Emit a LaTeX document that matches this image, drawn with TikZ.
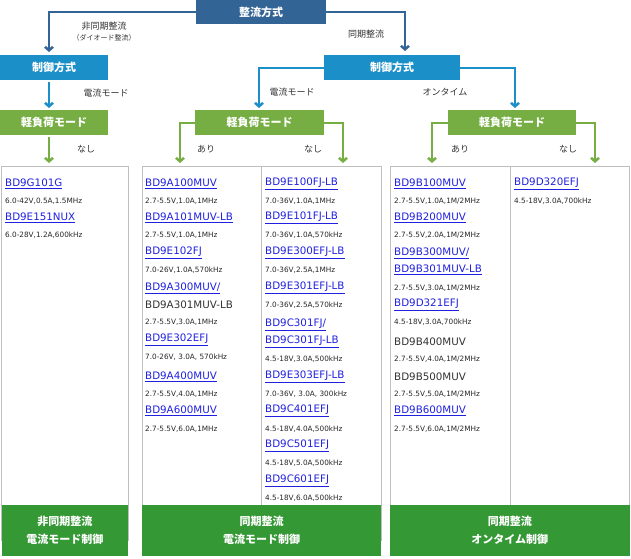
\documentclass[tikz,border=0pt]{standalone}
\usepackage{fontspec}
\setmainfont{DejaVu Sans}
\newfontfamily\jpfont{Noto Sans CJK JP}
\usetikzlibrary{calc}
\definecolor{RectBlue}{RGB}{51,100,150}
\definecolor{CtrlBlue}{RGB}{26,143,200}
\definecolor{LoadGreen}{RGB}{118,174,68}
\definecolor{FootGreen}{RGB}{52,152,52}
\definecolor{LinkBlue}{RGB}{32,32,224}
\definecolor{EdgeGray}{RGB}{190,190,190}
\tikzset{hdr/.style={inner sep=0pt, text=white, font=\jpfont\bfseries\fontsize{11}{12}\selectfont}}
\tikzset{lbl/.style={font=\jpfont\fontsize{9}{10}\selectfont, text=black!80}}
\tikzset{nxt/.style={line width=2.5pt, -{Straight Barb[length=3.5pt,width=8pt]}}}
\tikzset{pname/.style={anchor=west, inner sep=0pt, font=\fontsize{10.3}{11}\selectfont, text=LinkBlue}}
\tikzset{pblack/.style={anchor=west, inner sep=0pt, font=\fontsize{10.3}{11}\selectfont, text=black!80}}
\tikzset{pspec/.style={anchor=west, inner sep=0pt, font=\fontsize{7.3}{8}\selectfont, text=black!85}}
\usetikzlibrary{arrows.meta}
\newcommand{\ul}[1]{\underline{#1}}
\begin{document}
\begin{tikzpicture}[x=1pt, y=-1pt]
        \useasboundingbox (0,0) rectangle (631,558);
        % header boxes
        \fill[RectBlue] (196,0) rectangle (326,24);
        \node[hdr] (rect) at (261,12) {整流方式};
        \fill[CtrlBlue] (0,55) rectangle (108,80);
        \node[hdr] (ctrlA) at (54,67.5) {制御方式};
        \fill[CtrlBlue] (324,55) rectangle (460,80);
        \node[hdr] (ctrlB) at (392,67.5) {制御方式};
        \fill[LoadGreen] (0,110) rectangle (108,135);
        \node[hdr] (loadA) at (54,122.5) {軽負荷モード};
        \fill[LoadGreen] (195,110) rectangle (324,135);
        \node[hdr] (loadB) at (259.5,122.5) {軽負荷モード};
        \fill[LoadGreen] (448,110) rectangle (576,135);
        \node[hdr] (loadC) at (512,122.5) {軽負荷モード};

        % arrows
        \draw[nxt, RectBlue] (196,12) -| (49,52);
        \draw[nxt, RectBlue] (326,12) -| (405,51);
        \node[lbl] (async) at (104,26) {非同期整流};
        \node[lbl, font=\jpfont\fontsize{7}{8}\selectfont] (diode) at (104,38) {（ダイオード整流）};
        \node[lbl] (sync) at (366,34) {同期整流};
        \draw[nxt, CtrlBlue] (49,82) -- (49,108);
        \draw[nxt, CtrlBlue] (324,68) -| (259,108);
        \draw[nxt, CtrlBlue] (460,68) -| (515,108);
        \node[lbl] (curA) at (106,93) {電流モード};
        \node[lbl] (curB) at (292,92) {電流モード};
        \node[lbl] (ontm) at (445,92) {オンタイム};
        \draw[nxt, LoadGreen] (49,137) -- (49,163);
        \draw[nxt, LoadGreen] (195,123) -| (180,163);
        \draw[nxt, LoadGreen] (324,123) -| (343,163);
        \draw[nxt, LoadGreen] (448,123) -| (432,163);
        \draw[nxt, LoadGreen] (576,123) -| (595,163);
        \node[lbl] (noA) at (86,149) {なし};
        \node[lbl] (yesB) at (206,149) {あり};
        \node[lbl] (noB) at (313,149) {なし};
        \node[lbl] (yesC) at (460,149) {あり};
        \node[lbl] (noC) at (568,149) {なし};

        % product boxes
        \draw[EdgeGray] (1.5,166) rectangle (128,540);
        \draw[EdgeGray] (142,166) rectangle (381,540);
        \draw[EdgeGray] (261,166) -- (261,505);
        \draw[EdgeGray] (390,166) rectangle (629.5,540);
        \draw[EdgeGray] (510,166) -- (510,505);

        % product lists
        \foreach \y/\s/\t in {184/pname/\ul{BD9G101G}, 201/pspec/{6.0-42V,0.5A,1.5MHz},
                218/pname/\ul{BD9E151NUX}, 235/pspec/{6.0-28V,1.2A,600kHz}}
            \node[\s] at (5,\y) {\t};
        \foreach \y/\s/\t in {184/pname/\ul{BD9A100MUV}, 201/pspec/{2.7-5.5V,1.0A,1MHz},
                218/pname/\ul{BD9A101MUV-LB}, 235/pspec/{2.7-5.5V,1.0A,1MHz},
                253/pname/\ul{BD9E102FJ}, 270/pspec/{7.0-26V,1.0A,570kHz},
                288/pname/\ul{BD9A300MUV/}, 305/pblack/BD9A301MUV-LB, 322/pspec/{2.7-5.5V,3.0A,1MHz},
                340/pname/\ul{BD9E302EFJ}, 357/pspec/{7.0-26V, 3.0A, 570kHz},
                377/pname/\ul{BD9A400MUV}, 394/pspec/{2.7-5.5V,4.0A,1MHz},
                411/pname/\ul{BD9A600MUV}, 429/pspec/{2.7-5.5V,6.0A,1MHz}}
            \node[\s] at (145,\y) {\t};
        \foreach \y/\s/\t in {184/pname/\ul{BD9E100FJ-LB}, 201/pspec/{7.0-36V,1.0A,1MHz},
                218/pname/\ul{BD9E101FJ-LB}, 235/pspec/{7.0-36V,1.0A,570kHz},
                253/pname/\ul{BD9E300EFJ-LB}, 270/pspec/{7.0-36V,2.5A,1MHz},
                288/pname/\ul{BD9E301EFJ-LB}, 305/pspec/{7.0-36V,2.5A,570kHz},
                325/pname/\ul{BD9C301FJ/}, 342/pname/\ul{BD9C301FJ-LB}, 359/pspec/{4.5-18V,3.0A,500kHz},
                377/pname/\ul{BD9E303EFJ-LB}, 394/pspec/{7.0-36V, 3.0A, 300kHz},
                411/pname/\ul{BD9C401EFJ}, 429/pspec/{4.5-18V,4.0A,500kHz},
                446/pname/\ul{BD9C501EFJ}, 463/pspec/{4.5-18V,5.0A,500kHz},
                481/pname/\ul{BD9C601EFJ}, 498/pspec/{4.5-18V,6.0A,500kHz}}
            \node[\s] at (265,\y) {\t};
        \foreach \y/\s/\t in {184/pname/\ul{BD9B100MUV}, 201/pspec/{2.7-5.5V,1.0A,1M/2MHz},
                218/pname/\ul{BD9B200MUV}, 235/pspec/{2.7-5.5V,2.0A,1M/2MHz},
                253/pname/\ul{BD9B300MUV/}, 270/pname/\ul{BD9B301MUV-LB}, 288/pspec/{2.7-5.5V,3.0A,1M/2MHz},
                305/pname/\ul{BD9D321EFJ}, 322/pspec/{4.5-18V,3.0A,700kHz},
                342/pblack/BD9B400MUV, 359/pspec/{2.7-5.5V,4.0A,1M/2MHz},
                377/pblack/BD9B500MUV, 394/pspec/{2.7-5.5V,5.0A,1M/2MHz},
                411/pname/\ul{BD9B600MUV}, 429/pspec/{2.7-5.5V,6.0A,1M/2MHz}}
            \node[\s] at (394,\y) {\t};
        \foreach \y/\s/\t in {184/pname/\ul{BD9D320EFJ}, 201/pspec/{4.5-18V,3.0A,700kHz}}
            \node[\s] at (514,\y) {\t};

        % footers
        \fill[FootGreen] (1.5,505) rectangle (128,556);
        \node[hdr, align=center, font=\jpfont\bfseries\fontsize{11}{18}\selectfont] (footA) at (64.75,530.5) {非同期整流\\電流モード制御};
        \fill[FootGreen] (142,505) rectangle (381,556);
        \node[hdr, align=center, font=\jpfont\bfseries\fontsize{11}{18}\selectfont] (footB) at (261.5,530.5) {同期整流\\電流モード制御};
        \fill[FootGreen] (390,505) rectangle (629.5,556);
        \node[hdr, align=center, font=\jpfont\bfseries\fontsize{11}{18}\selectfont] (footC) at (509.75,530.5) {同期整流\\オンタイム制御};
\end{tikzpicture}
\end{document}
